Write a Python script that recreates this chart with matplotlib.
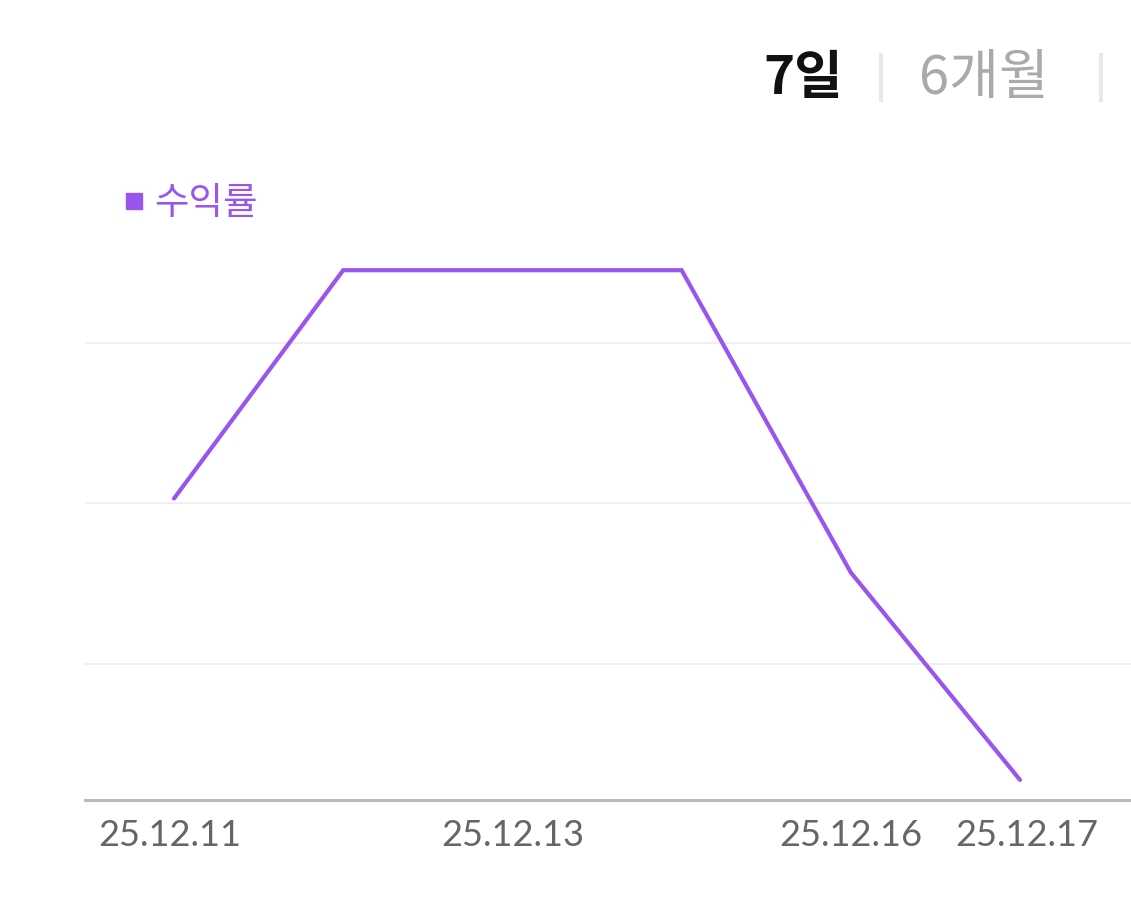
import matplotlib
matplotlib.use("Agg")
import matplotlib.pyplot as plt
from matplotlib.lines import Line2D
from matplotlib.transforms import ScaledTranslation

plt.rcParams['font.family'] = ['Lato', 'Noto Sans CJK KR', 'DejaVu Sans']

# data (values in gridline units)
dates = ['25.12.11', '25.12.12', '25.12.13', '25.12.15', '25.12.16', '25.12.17']
returns = [2.03, 3.45, 3.45, 3.45, 1.57, 0.28]
shown_ticks = [0, 2, 4, 5]
grid_vals = [1, 2, 3]

purple = '#9955ee'

fig = plt.figure(figsize=(11.31, 8.97), dpi=100)
W, H = 1131, 897
ax = fig.add_axes([85 / W, (H - 800) / H, (W - 85) / W, (800 - 230) / H])

x = list(range(len(dates)))
ax.plot(x, returns, color=purple, lw=3, solid_joinstyle='miter',
        solid_capstyle='round', zorder=3, label='수익률')

ax.set_xlim(-0.526, 5.656)
ax.set_ylim(0.155, 3.70)

for g in grid_vals:
    ax.axhline(g, color='#ececec', lw=1.2, zorder=1)

ax.set_yticks([])
ax.set_xticks([x[i] for i in shown_ticks])
ax.set_xticklabels([dates[i] for i in shown_ticks], fontsize=26, color='#666666')
ax.tick_params(axis='x', length=0, pad=14)

# edge labels are nudged like the original
labels = ax.get_xticklabels()
labels[0].set_transform(labels[0].get_transform() + ScaledTranslation(-4 / 100, 0, fig.dpi_scale_trans))
labels[-1].set_transform(labels[-1].get_transform() + ScaledTranslation(7 / 100, 0, fig.dpi_scale_trans))

for s in ['top', 'right', 'left']:
    ax.spines[s].set_visible(False)
ax.spines['bottom'].set_color('#bbbbbb')
ax.spines['bottom'].set_linewidth(2.2)

# legend
handle = Line2D([], [], marker='s', linestyle='', color=purple, markersize=12)
leg = fig.legend(handles=[handle], labels=['수익률'], loc='center left',
                 bbox_to_anchor=(96 / W, 1 - 203 / H), frameon=False,
                 handletextpad=0.05, handlelength=1.0, fontsize=27,
                 labelcolor=purple, borderpad=0)

# period toggle
fig.text(803 / W, 1 - 79 / H, '7일', fontsize=38, fontweight='bold',
         color='#111111', ha='center', va='center', family='Noto Sans CJK KR')
fig.text(984 / W, 1 - 79 / H, '6개월', fontsize=39, fontweight='medium',
         color='#aaaaaa', ha='center', va='center', family='Noto Sans CJK KR')
for sx in [881, 1101]:
    fig.add_artist(Line2D([sx / W, sx / W], [1 - 55 / H, 1 - 100 / H],
                          color='#e8e8e8', lw=3))

fig.savefig('out.png', dpi=100, facecolor='white')
